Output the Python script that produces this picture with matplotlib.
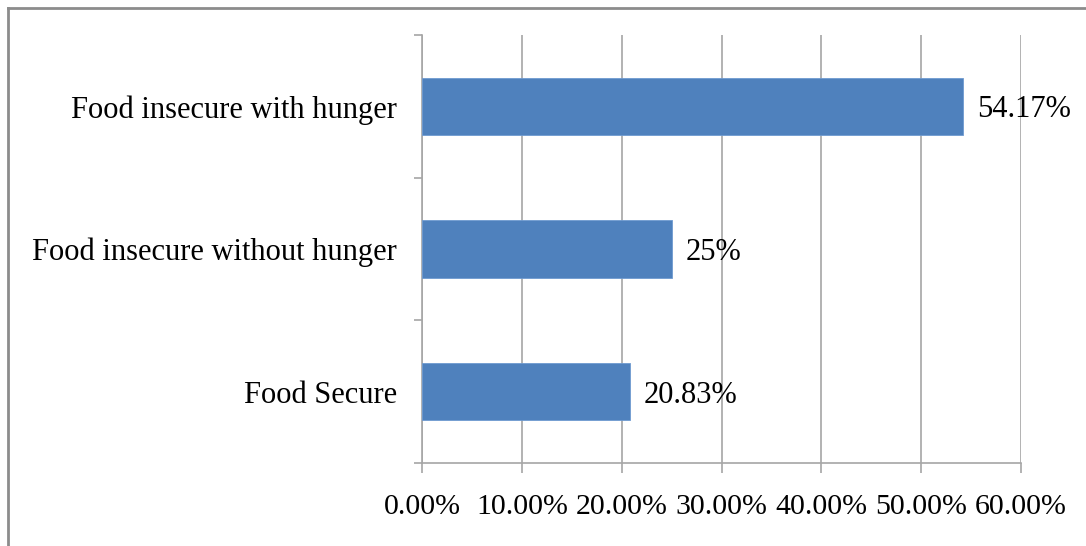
import matplotlib.pyplot as plt
from matplotlib.lines import Line2D
import numpy as np

BAR_COLOR = "#4f81bd"
GRID = "#a6a6a6"
BORDER = "#8c8c8c"
INK = "#000000"

CATEGORIES = ["Food Secure", "Food insecure without hunger", "Food insecure with hunger"]
VALUES = [20.83, 25.0, 54.17]
LABELS = ["20.83%", "25%", "54.17%"]
XTICKS = [0, 10, 20, 30, 40, 50, 60]

W, H = 1086, 546


def main():
    plt.rcParams["font.family"] = ["Liberation Serif", "DejaVu Serif"]
    fig = plt.figure(figsize=(W / 100, H / 100), dpi=100, facecolor="white")
    ax = fig.add_axes([422 / W, 1 - 463 / H, (1021 - 422) / W, (463 - 35) / H])

    y = np.arange(len(CATEGORIES))
    ax.barh(y, VALUES, height=0.4, color=BAR_COLOR, edgecolor="#6f9bd1",
            linewidth=0.6, zorder=3)

    ax.set_xlim(0, 60)
    ax.set_ylim(-0.5, len(CATEGORIES) - 0.5)
    ax.set_xticks(XTICKS)
    ax.set_xticklabels([f"{t:.2f}%" for t in XTICKS], fontsize=21.5, color=INK)
    ax.set_yticks(y)
    ax.set_yticklabels(CATEGORIES, fontsize=22, color=INK)
    ax.set_yticks(np.arange(-0.5, len(CATEGORIES), 1.0), minor=True)
    ax.tick_params(axis="y", which="major", length=0, pad=18)
    ax.tick_params(axis="y", which="minor", length=6, width=1.2, color=GRID)
    ax.tick_params(axis="x", length=7, width=1.2, color=GRID, pad=15)

    ax.grid(True, axis="x", color=GRID, linewidth=1.2, zorder=0)
    for side in ["top", "right"]:
        ax.spines[side].set_visible(False)
    for side in ["left", "bottom"]:
        ax.spines[side].set_color(GRID)
        ax.spines[side].set_linewidth(1.2)

    for yi, v, lab in zip(y, VALUES, LABELS):
        ax.annotate(lab, (v, yi), xytext=(10, 0), textcoords="offset points",
                    ha="left", va="center_baseline", fontsize=22, color=INK, zorder=4)

    # outer chart border (left and top visible)
    fig.add_artist(Line2D([8 / W, 8 / W], [0, 1 - 8 / H], transform=fig.transFigure,
                          color=BORDER, linewidth=2))
    fig.add_artist(Line2D([8 / W, 1], [1 - 8 / H, 1 - 8 / H], transform=fig.transFigure,
                          color=BORDER, linewidth=2))

    fig.savefig("out.png", dpi=100, facecolor="white")
    plt.close(fig)


if __name__ == "__main__":
    main()
